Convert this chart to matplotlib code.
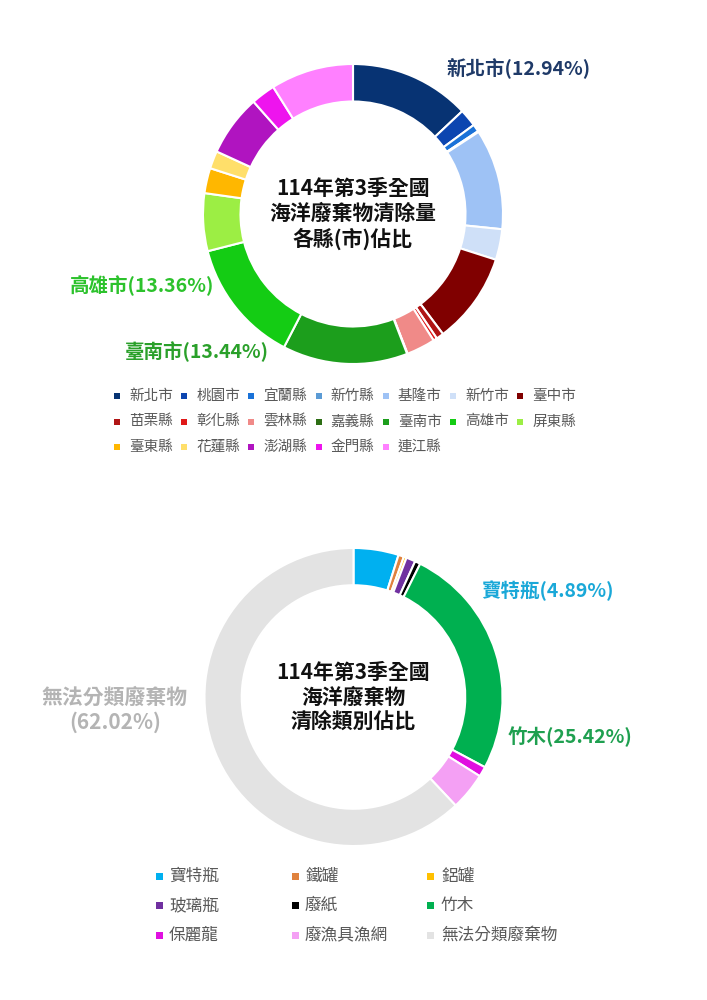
import matplotlib.pyplot as plt
from matplotlib.patches import Rectangle

plt.rcParams['font.family'] = ['Noto Sans CJK TC', 'DejaVu Sans']

# 各縣(市)佔比 (%)
counties = ['新北市', '桃園市', '宜蘭縣', '新竹縣', '基隆市', '新竹市', '臺中市',
            '苗栗縣', '彰化縣', '雲林縣', '嘉義縣', '臺南市', '高雄市', '屏東縣',
            '臺東縣', '花蓮縣', '澎湖縣', '金門縣', '連江縣']
county_pct = [12.94, 1.9, 0.8, 0.1, 10.8, 3.3, 9.8,
              0.8, 0.4, 3.1, 0.05, 13.44, 13.36, 6.2,
              2.7, 1.9, 6.6, 2.6, 8.9]
county_colors = ['#073373', '#0c45b0', '#1a72d8', '#5b9bd5', '#9ec2f5', '#cfe0f8', '#800000',
                 '#b01515', '#e01818', '#f08a88', '#2d6e14', '#1c9e1c', '#14cc14', '#9cee44',
                 '#ffb700', '#ffdf6a', '#b014c0', '#ee14ee', '#ff80ff']

# 清除類別佔比 (%)
kinds = ['寶特瓶', '鐵罐', '鋁罐', '玻璃瓶', '廢紙', '竹木', '保麗龍', '廢漁具漁網', '無法分類廢棄物']
kind_pct = [4.89, 0.6, 0.3, 1.0, 0.6, 25.42, 1.1, 4.07, 62.02]
kind_colors = ['#00b0f0', '#e0823e', '#ffc000', '#7030a0', '#000000', '#00b050',
               '#e010e0', '#f4a0f4', '#e3e3e3']

W, H = 707, 1000
fig = plt.figure(figsize=(W / 100, H / 100), dpi=100)


def px(x, y):
    return x / W, 1 - y / H


def donut(cx, cy, r, values, colors, title):
    ax = fig.add_axes([(cx - r) / W, 1 - (cy + r) / H, 2 * r / W, 2 * r / H])
    ax.pie(values, colors=colors, startangle=90, counterclock=False,
           radius=1, wedgeprops=dict(width=0.25, edgecolor='white', linewidth=1.5))
    ax.set_xlim(-1.02, 1.02)
    ax.set_ylim(-1.02, 1.02)
    ax.set_aspect('equal')
    ax.axis('off')
    ax.text(0, 0, title, ha='center', va='center', fontsize=15,
            fontweight='bold', color='#111111', linespacing=1.2)
    return ax


donut(353, 214, 153, county_pct, county_colors, '114年第3季全國\n海洋廢棄物清除量\n各縣(市)佔比')
donut(353.5, 697, 152, kind_pct, kind_colors, '114年第3季全國\n海洋廢棄物\n清除類別佔比')

# 標籤
def label(x, y, s, color, ha='left', fs=14):
    fig.text(*px(x, y), s, ha=ha, va='center', fontsize=fs, fontweight='bold', color=color)

label(446, 68, f'{counties[0]}({county_pct[0]:.2f}%)', '#1f3a68')
label(70, 286, f'{counties[12]}({county_pct[12]:.2f}%)', '#2cc22c')
label(125, 352, f'{counties[11]}({county_pct[11]:.2f}%)', '#2aa02a')
label(481, 591, f'{kinds[0]}({kind_pct[0]:.2f}%)', '#1aa8d8')
label(508, 737, f'{kinds[5]}({kind_pct[5]:.2f}%)', '#1fa050')
label(115, 710, f'{kinds[8]}\n({kind_pct[8]:.2f}%)', '#b4b4b4', ha='center', fs=15)


def legend(names, colors, ncol, x0, dx, y0, dy, fs, sq, gap):
    for i, (name, c) in enumerate(zip(names, colors)):
        row, col = divmod(i, ncol)
        x = x0 + col * dx
        y = y0 + row * dy
        fig.add_artist(Rectangle(px(x - sq / 2, y + sq / 2), sq / W, sq / H,
                                 transform=fig.transFigure, color=c, lw=0))
        fig.text(*px(x + gap, y), name, ha='left', va='center', fontsize=fs, color='#595959')


legend(counties, county_colors, 7, 117, 67.2, 396, 25.5, 10.5, 6, 12)
legend(kinds, kind_colors, 3, 159, 136, 876, 29.5, 12, 7, 10)

fig.savefig('out.png', dpi=100, facecolor='white')
